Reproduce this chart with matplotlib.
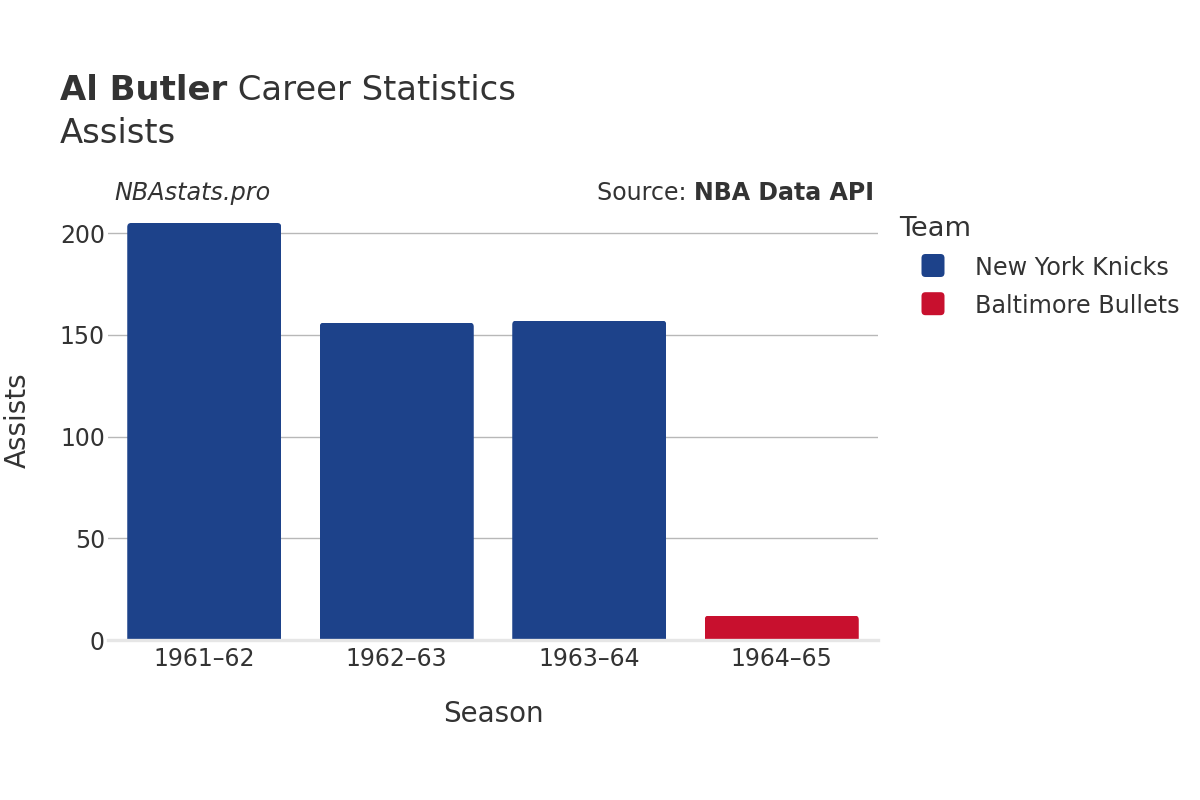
import matplotlib
matplotlib.use("Agg")
import matplotlib.pyplot as plt
from matplotlib.patches import FancyBboxPatch

# ---- data ----
seasons = ["1961–62", "1962–63", "1963–64", "1964–65"]
assists = [205, 156, 157, 12]
teams = ["New York Knicks", "New York Knicks", "New York Knicks", "Baltimore Bullets"]
legend_teams = ["New York Knicks", "Baltimore Bullets"]
team_colors = {"New York Knicks": "#1D428A", "Baltimore Bullets": "#C8102E"}
yticks = [0, 50, 100, 150, 200]

TXT = "#333333"
plt.rcParams["font.family"] = ["DejaVu Sans"]

W, H = 1200, 800
fig = plt.figure(figsize=(12, 8), dpi=100)

AX_L, AX_R, AX_B, AX_T = 108, 878, 640, 201
ymax = 215.8
ax = fig.add_axes([AX_L / W, 1 - AX_B / H, (AX_R - AX_L) / W, (AX_B - AX_T) / H])
ax.set_xlim(-0.5, len(seasons) - 0.5)
ax.set_ylim(0, ymax)
for s in ax.spines.values():
    s.set_visible(False)

ax.set_yticks(yticks)
ax.grid(axis="y", color="#b8b8b8", lw=1.0)
ax.set_axisbelow(True)
ax.set_xticks(range(len(seasons)), seasons)
ax.tick_params(axis="both", length=0, labelsize=17, labelcolor=TXT)
ax.tick_params(axis="x", pad=5)
ax.tick_params(axis="y", pad=2.2)

# bars with rounded top corners
px_x = (AX_R - AX_L) / len(seasons)
px_y = (AX_B - AX_T) / ymax
r_px = 4.0
bars = ax.bar(range(len(seasons)), assists, width=0.8,
              color=[team_colors[t] for t in teams], zorder=2)
for b in bars:
    clip = FancyBboxPatch((b.get_x(), -20), b.get_width(), b.get_height() + 20,
                          boxstyle=f"round,pad=0,rounding_size={r_px / px_x}",
                          mutation_aspect=px_x / px_y, transform=ax.transData)
    b.set_clip_path(clip)

ax.axhline(0, color="#e6e6e6", lw=2.4, zorder=3, clip_on=False)

# ---- titles ----
renderer = fig.canvas.get_renderer()
t1 = fig.text(60 / W, 1 - 100 / H, "Al Butler", fontsize=24.4, fontweight="bold",
              color=TXT, ha="left", va="baseline")
bb = t1.get_window_extent(renderer)
fig.text(bb.x1 / W, 1 - 100 / H, " Career Statistics", fontsize=24.4,
         color=TXT, ha="left", va="baseline")
fig.text(60 / W, 1 - 143 / H, "Assists", fontsize=24.4, color=TXT,
         ha="left", va="baseline")

fig.text(114 / W, 1 - 200 / H, "NBAstats.pro", fontsize=17.2, style="italic",
         color=TXT, ha="left", va="baseline")
s2 = fig.text(874 / W, 1 - 200 / H, "NBA Data API", fontsize=17.1, fontweight="bold",
              color=TXT, ha="right", va="baseline")
bb2 = s2.get_window_extent(renderer)
fig.text(bb2.x0 / W, 1 - 200 / H, "Source: ", fontsize=17.1, color=TXT,
         ha="right", va="baseline")

# axis titles
fig.text(493 / W, 1 - 721.7 / H, "Season", fontsize=20, color=TXT,
         ha="center", va="baseline")
fig.text(18 / W, 1 - 420 / H, "Assists", fontsize=20, color=TXT,
         ha="center", va="center", rotation=90)

# ---- legend ----
fig.text(899 / W, 1 - 236 / H, "Team", fontsize=19.6, color=TXT, ha="left", va="baseline")
for k, team in enumerate(legend_teams):
    cy = 265.5 + k * 38.2
    sq = 23
    fig.patches.append(FancyBboxPatch(((933 - sq / 2) / W, 1 - (cy + sq / 2) / H), sq / W, sq / H,
                                      boxstyle=f"round,pad=0,rounding_size={4 / W}",
                                      mutation_aspect=W / H, transform=fig.transFigure,
                                      fc=team_colors[team], ec="none", figure=fig))
    fig.text(975 / W, 1 - (cy + 9.5) / H, team, fontsize=17.2, color=TXT,
             ha="left", va="baseline")

fig.savefig("out.png", dpi=100)
